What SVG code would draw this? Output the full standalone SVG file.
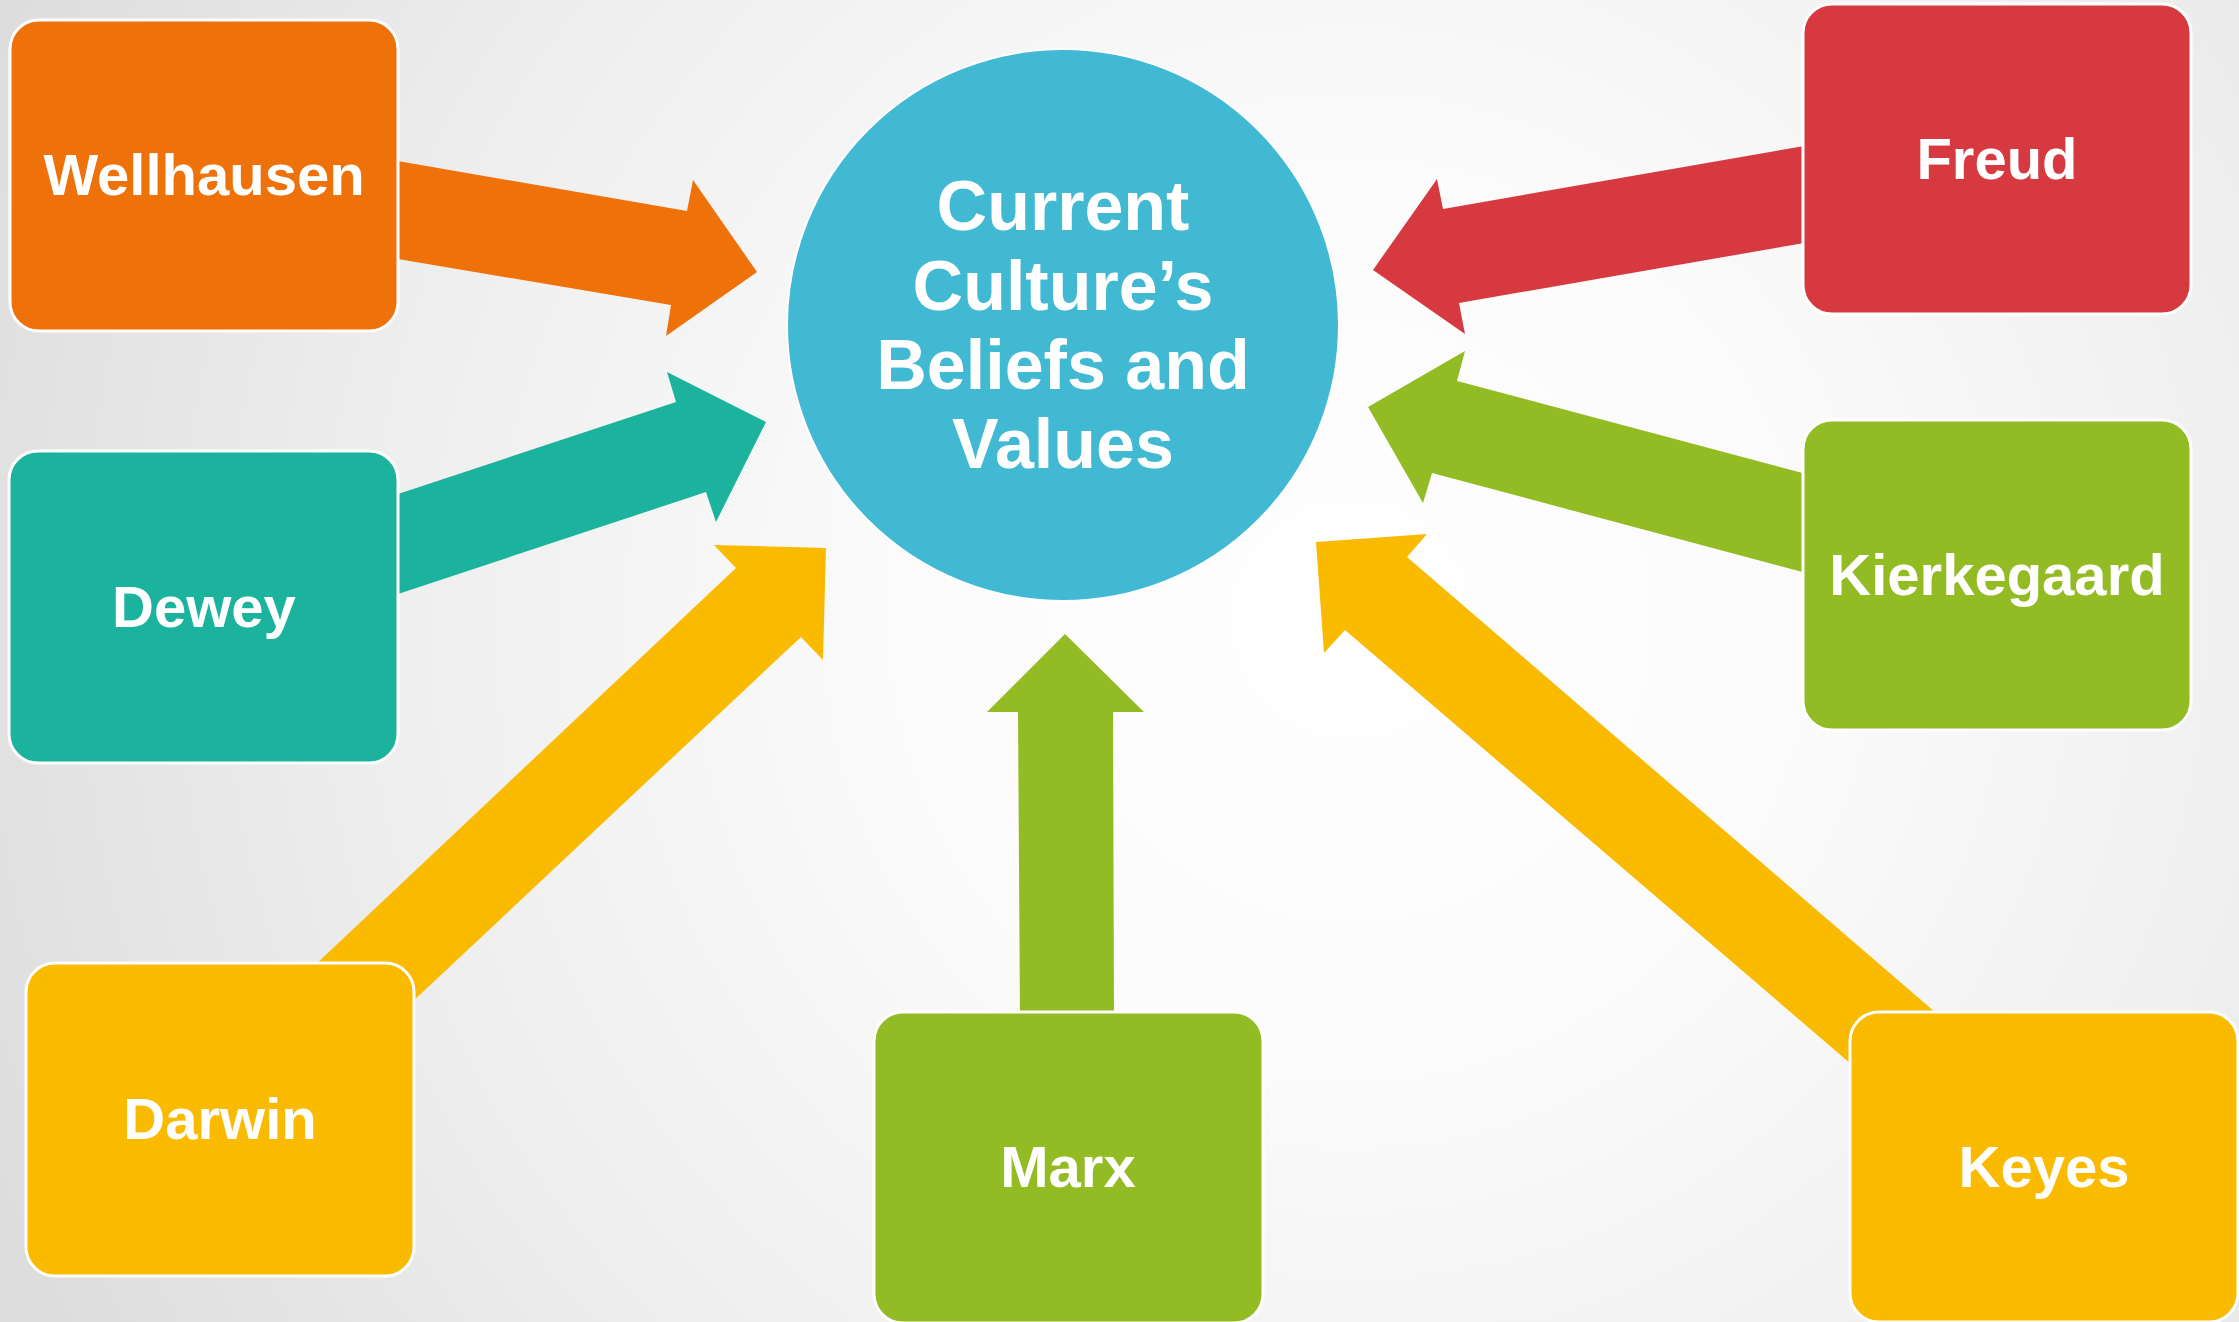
<svg xmlns="http://www.w3.org/2000/svg" width="2239" height="1322" viewBox="0 0 2239 1322">
  <defs>
    <radialGradient id="bg" gradientUnits="userSpaceOnUse" cx="1350" cy="620" r="1500">
      <stop offset="0" stop-color="#ffffff"/>
      <stop offset="0.3" stop-color="#fbfbfb"/>
      <stop offset="0.65" stop-color="#eeeeee"/>
      <stop offset="1" stop-color="#dcdcdc"/>
    </radialGradient>
    <style>
      .box { stroke: #ffffff; stroke-width: 3; }
      .lbl { font-family: "Liberation Sans", Arial, sans-serif; font-weight: bold; font-size: 58px; fill: #ffffff; text-anchor: middle; }
      .ctr { font-family: "Liberation Sans", Arial, sans-serif; font-weight: bold; font-size: 70px; fill: #ffffff; text-anchor: middle; }
      .orange { fill: #EE710A; }
      .teal { fill: #1CB39E; }
      .yellow { fill: #FABA00; }
      .green { fill: #92BB24; }
      .red { fill: #D63A40; }
    </style>
  </defs>
  <rect x="0" y="0" width="2239" height="1322" fill="url(#bg)"/>

  <g id="connectors">
    <polygon class="orange" points="392,160 687,211 693,180 757,272 666,336 671,305 392,258"/>
    <polygon class="teal" points="392,496 676,402 667,372 766,422 716,522 706,492 392,596"/>
    <polygon class="yellow" points="296,983 736,568 714,545 826,548 823,660 801,637 394,1019"/>
    <polygon class="green" points="1020,1020 1018,712 987,712 1065,634 1144,712 1113,712 1114,1020"/>
    <polygon class="red" points="1810,145 1443,209 1437,179 1373,270 1465,334 1459,303 1810,242"/>
    <polygon class="green" points="1810,475 1457,381 1465,351 1368,407 1423,503 1432,473 1810,574"/>
    <polygon class="yellow" points="1407,557 1427,534 1316,542 1324,653 1345,630 1872,1082 1957,1031"/>
  </g>

  <g id="center">
    <circle cx="1063" cy="325" r="276" fill="#41B9D3" stroke="#ffffff" stroke-width="2"/>
    <text class="ctr" x="1063" y="230">Current</text>
    <text class="ctr" x="1063" y="310">Culture’s</text>
    <text class="ctr" x="1063" y="389">Beliefs and</text>
    <text class="ctr" x="1063" y="468">Values</text>
  </g>

  <g id="wellhausen">
    <rect class="box orange" x="10" y="20" width="388" height="311" rx="29"/>
    <text class="lbl" x="204" y="195">Wellhausen</text>
  </g>
  <g id="dewey">
    <rect class="box teal" x="9" y="451" width="389" height="312" rx="29"/>
    <text class="lbl" x="204" y="627">Dewey</text>
  </g>
  <g id="darwin">
    <rect class="box yellow" x="26" y="963" width="388" height="313" rx="29"/>
    <text class="lbl" x="220" y="1139">Darwin</text>
  </g>
  <g id="marx">
    <rect class="box green" x="874" y="1012" width="389" height="311" rx="29"/>
    <text class="lbl" x="1068" y="1187">Marx</text>
  </g>
  <g id="freud">
    <rect class="box red" x="1803" y="4" width="388" height="310" rx="29"/>
    <text class="lbl" x="1997" y="179">Freud</text>
  </g>
  <g id="kierkegaard">
    <rect class="box green" x="1803" y="420" width="388" height="310" rx="29"/>
    <text class="lbl" x="1997" y="595">Kierkegaard</text>
  </g>
  <g id="keyes">
    <rect class="box yellow" x="1850" y="1012" width="388" height="310" rx="29"/>
    <text class="lbl" x="2044" y="1187">Keyes</text>
  </g>
</svg>
